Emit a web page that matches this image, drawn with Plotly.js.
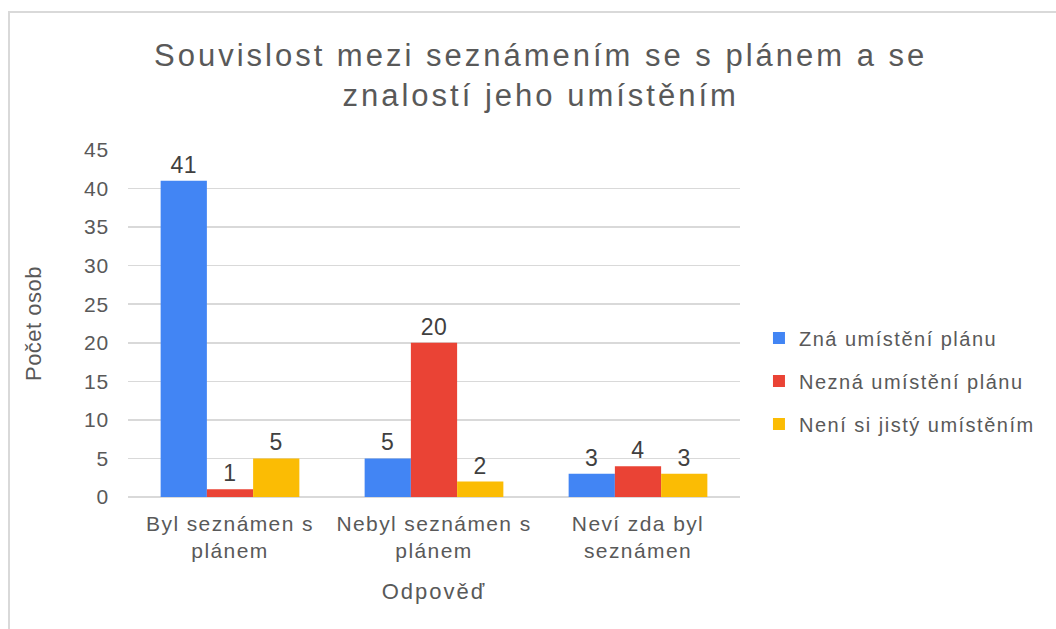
<!DOCTYPE html>
<html><head><meta charset="utf-8">
<script src="https://cdn.plot.ly/plotly-3.0.1.min.js"></script>
<style>
html,body{margin:0;padding:0;background:#fff;}
#frame{position:absolute;left:8px;top:11px;width:1100px;height:700px;border-left:2px solid #d9d9d9;border-top:2px solid #d9d9d9;pointer-events:none;}
#chart{width:1056px;height:629px;}
text.gtitle{letter-spacing:3px;}
.xtick text{letter-spacing:1.4px;}
.ytick text{letter-spacing:0.8px;}
text.legendtext{letter-spacing:1.5px;}
text.xtitle{letter-spacing:2px;}
text.ytitle{letter-spacing:0.5px;}
text.bartext{letter-spacing:0.5px;}
</style></head>
<body>
<div id="chart"></div>
<div id="frame"></div>
<script>
const categories = ["Byl seznámen s<br>plánem", "Nebyl seznámen s<br>plánem", "Neví zda byl<br>seznámen"];
const seriesNames = ["Zná umístění plánu", "Nezná umístění plánu", "Není si jistý umístěním"];
const znaValues = [41, 5, 3];
const neznaValues = [1, 20, 4];
const nejistyValues = [5, 2, 3];
const colors = ["#4285F4", "#EA4335", "#FBBC04"];
const yTicks = [0, 5, 10, 15, 20, 25, 30, 35, 40, 45];

const font = "Liberation Sans, Arial, sans-serif";
const allValues = [znaValues, neznaValues, nejistyValues];
const traces = allValues.map((vals, i) => ({
  type: "bar",
  name: seriesNames[i],
  x: categories,
  y: vals,
  text: vals.map(String),
  textposition: "outside",
  textfont: {family: font, size: 23, color: "#404040"},
  cliponaxis: false,
  marker: {color: colors[i]},
  legendgroup: "g" + i,
  hoverinfo: "x+y+name"
}));

const layout = {
  width: 1056, height: 629,
  margin: {l: 128, r: 316, t: 150, b: 132},
  paper_bgcolor: "#fff", plot_bgcolor: "#fff",
  font: {family: font, color: "#595959"},
  title: {
    text: "Souvislost mezi seznámením se s plánem a se<br>znalostí jeho umístěním",
    font: {family: font, size: 31, color: "#595959"},
    xref: "container", x: 0.512, xanchor: "center",
    yref: "container", y: 0.895, yanchor: "top"
  },
  barmode: "group",
  bargap: 0.32,
  bargroupgap: 0,
  xaxis: {
    type: "category",
    showgrid: false,
    showline: false,
    ticks: "",
    ticklabelstandoff: 12,
    tickfont: {family: font, size: 21, color: "#595959"},
    title: {text: "Odpověď", font: {family: font, size: 22, color: "#595959"}, standoff: 22}
  },
  yaxis: {
    range: [0, 45],
    tickvals: yTicks,
    ticktext: yTicks.map(String),
    showgrid: true,
    gridcolor: "#d9d9d9",
    gridwidth: 1.5,
    zeroline: true,
    zerolinecolor: "#d9d9d9",
    zerolinewidth: 2,
    showline: false,
    ticks: "",
    ticklabelstandoff: 18,
    tickfont: {family: font, size: 21, color: "#595959"},
    title: {text: "Počet osob", font: {family: font, size: 22, color: "#595959"}, standoff: 36}
  },
  legend: {
    x: 1.031, xanchor: "left",
    y: 0.334, yanchor: "middle",
    font: {family: font, size: 20, color: "#595959"},
    traceorder: "grouped",
    tracegroupgap: 14,
    itemwidth: 30
  },
  showlegend: true
};

Plotly.newPlot("chart", traces, layout, {displayModeBar: false, staticPlot: true});
</script>
</body></html>
